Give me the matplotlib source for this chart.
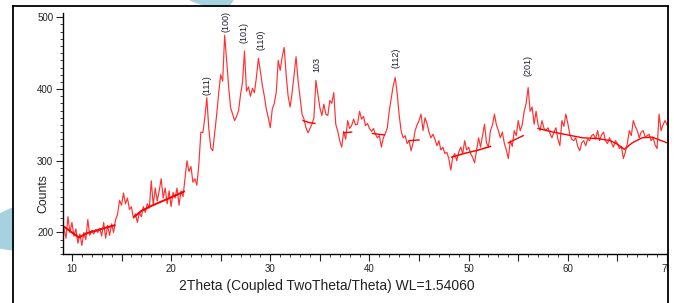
import numpy as np
import matplotlib
matplotlib.use("Agg")
import matplotlib.pyplot as plt
from matplotlib.lines import Line2D
from matplotlib.patches import Polygon, Rectangle
from matplotlib.ticker import MultipleLocator, FuncFormatter

plt.rcParams['font.family'] = ['Liberation Sans', 'DejaVu Sans']

# scan: 2theta from 9.2 to 70.0 in 0.2 deg steps
theta_start, theta_stop, theta_step = 9.2, 70.0, 0.2
counts = [
    205, 192, 222, 200, 214, 195, 205, 185, 198, 182,
    200, 190, 218, 196, 203, 198, 204, 200, 206, 195,
    214, 192, 210, 196, 212, 200, 218, 225, 245, 238,
    255, 240, 248, 232, 236, 220, 226, 214, 228, 222,
    236, 228, 240, 234, 272, 238, 262, 244, 258, 275,
    248, 262, 240, 258, 236, 256, 248, 262, 238, 258,
    250, 275, 300, 285, 292, 270, 275, 266, 295, 340,
    339, 360, 388, 345, 318, 314, 340, 365, 395, 420,
    411, 475, 440, 403, 374, 365, 356, 362, 370, 392,
    410, 453, 397, 403, 390, 401, 395, 416, 443, 425,
    405, 390, 372, 360, 346, 372, 380, 395, 440, 426,
    445, 458, 420, 390, 375, 395, 420, 445, 412, 388,
    365, 358, 346, 339, 345, 351, 360, 412, 393, 374,
    363, 379, 365, 363, 384, 380, 395, 351, 341, 328,
    319, 341, 330, 356, 345, 349, 358, 350, 351, 369,
    358, 362, 349, 352, 345, 341, 345, 337, 332, 335,
    319, 332, 338, 346, 370, 388, 405, 416, 393, 363,
    341, 332, 335, 324, 328, 314, 325, 342, 350, 356,
    365, 342, 360, 352, 340, 332, 337, 330, 321, 328,
    315, 319, 310, 312, 303, 287, 305, 310, 300, 312,
    319, 310, 328, 315, 319, 310, 305, 297, 315, 332,
    319, 335, 351, 325, 319, 342, 350, 365, 350, 342,
    332, 340, 324, 315, 303, 328, 320, 342, 335, 356,
    342, 350, 369, 380, 402, 369, 375, 351, 369, 350,
    342, 356, 345, 342, 346, 338, 332, 340, 346, 330,
    321, 356, 348, 365, 352, 337, 330, 328, 332, 320,
    314, 325, 328, 321, 330, 328, 335, 337, 330, 342,
    328, 336, 340, 328, 324, 332, 325, 319, 328, 324,
    317, 320, 303, 312, 324, 342, 335, 356, 348, 342,
    332, 340, 342, 333, 335, 337, 328, 332, 322, 317,
    365, 342, 350, 356, 350,
]

# fitted background segments
bg_segments_x = [
    [9.2, 10.0, 10.7, 11.5, 12.5, 13.5, 14.3],
    [16.3, 17.0, 18.0, 19.0, 20.0, 21.3],
    [33.3, 34.0, 34.5],
    [37.4, 38.2],
    [40.3, 41.5],
    [44.0, 45.0],
    [48.3, 49.5, 51.0, 52.2],
    [54.0, 55.5],
    [57.0, 58.5, 60.0, 61.5, 63.0, 64.3, 65.0, 65.7, 66.5, 67.5, 68.5, 70.0],
]
bg_segments_y = [
    [208, 200, 193, 199, 203, 207, 210],
    [222, 230, 237, 243, 249, 257],
    [356, 353, 352],
    [339, 340],
    [338, 336],
    [328, 329],
    [305, 310, 315, 320],
    [325, 335],
    [345, 340, 336, 332, 331, 328, 323, 316, 325, 332, 333, 325],
]
bg_widths = [1.4, 1.4, 1.0, 1.0, 1.0, 1.0, 1.1, 1.0, 1.0]

peak_labels = ["(111)", "(100)", "(101)", "(110)", "103", "(112)", "(201)"]
peak_pos = [23.6, 25.5, 27.3, 29.1, 34.7, 42.7, 56.0]
peak_label_base = [392, 480, 464, 454, 424, 429, 418]

W, H = 674, 303
fig = plt.figure(figsize=(W / 100, H / 100), dpi=100)


def px(pts):
    return [(x / W, 1 - y / H) for x, y in pts]


blue = '#a6d2e0'
fig.patches.append(Polygon(px([(0, 214), (6, 211), (13, 208), (13, 250), (6, 249), (0, 248)]),
                           closed=True, transform=fig.transFigure, color=blue, zorder=0))
fig.patches.append(Polygon(px([(190, 0), (233, 0), (229, 6), (206, 6)]),
                           closed=True, transform=fig.transFigure, color=blue, zorder=0))

ax = fig.add_axes([63 / W, 1 - 254 / H, (667 - 63) / W, (254 - 13) / H])
ax.set_facecolor('white')

two_theta = np.round(np.arange(theta_start, theta_stop + 1e-9, theta_step), 2)
ax.plot(two_theta, counts, color='#ff1a1a', lw=0.85, alpha=0.9)
for bx, by, bw in zip(bg_segments_x, bg_segments_y, bg_widths):
    ax.plot(bx, by, color='#ff0000', lw=bw)

for lab, xp, yb in zip(peak_labels, peak_pos, peak_label_base):
    ax.text(xp, yb, lab, rotation=90, ha='center', va='bottom', fontsize=6.5,
            color='#1c1c2a', clip_on=False)

ax.set_xlim(9.1, 70.0)
ax.set_ylim(170, 506)

for s in ['top', 'right']:
    ax.spines[s].set_visible(False)
for s in ['left', 'bottom']:
    ax.spines[s].set_linewidth(1.0)

ax.xaxis.set_major_locator(MultipleLocator(5))
ax.xaxis.set_minor_locator(MultipleLocator(1))
ax.xaxis.set_major_formatter(FuncFormatter(lambda v, p: f"{int(round(v))}" if int(round(v)) % 10 == 0 else ""))
ax.yaxis.set_major_locator(MultipleLocator(100))
ax.yaxis.set_minor_locator(MultipleLocator(10))

ax.tick_params(axis='both', which='major', labelsize=7, length=5, width=0.8,
               colors='#222222', pad=2)
ax.tick_params(axis='both', which='minor', length=2.5, width=0.6, colors='#222222')

fig.text(43 / W, 1 - 194 / H, "Counts", rotation=90, ha='center', va='center',
         fontsize=8.8, color='#222222')
fig.text(327 / W, 1 - 286 / H, "2Theta (Coupled TwoTheta/Theta) WL=1.54060",
         ha='center', va='center', fontsize=10, color='#222222')

# white strip at the right edge, then the outer frame
fig.patches.append(Rectangle((668 / W, 0), (W - 668) / W, 1, transform=fig.transFigure,
                             color='white', zorder=5))
for (x0, y0, x1, y1) in [(13, 6, 668, 6), (13, 6, 13, 303), (668, 6, 668, 303)]:
    fig.add_artist(Line2D([x0 / W, x1 / W], [1 - y0 / H, 1 - y1 / H],
                          transform=fig.transFigure, color='black', lw=1.3, zorder=6))

fig.savefig("out.png", dpi=100)
